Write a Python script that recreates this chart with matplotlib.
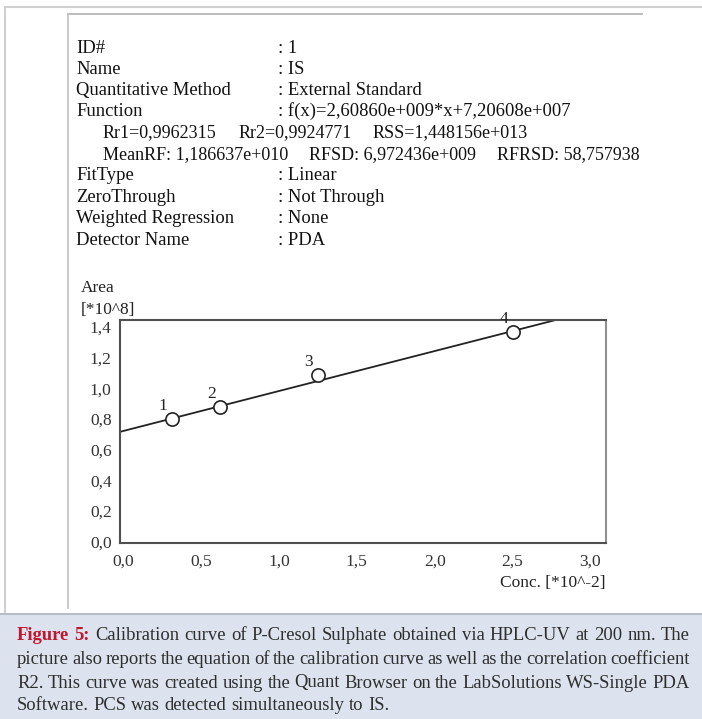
import matplotlib
matplotlib.use("Agg")
import matplotlib.pyplot as plt
from matplotlib.lines import Line2D
from matplotlib.patches import Rectangle

# calibration standards (conc in 10^-2, area in 10^8)
conc = [0.3125, 0.625, 1.25, 2.5]
area = [0.80, 0.88, 1.085, 1.365]
point_ids = ["1", "2", "3", "4"]

# fitted function f(x) = a*x + b
slope = 2.60860e9
intercept = 7.20608e7

x_ticks = [0.0, 0.5, 1.0, 1.5, 2.0, 2.5, 3.0]
x_ticklabels = ["0,0", "0,5", "1,0", "1,5", "2,0", "2,5", "3,0"]
y_ticks = [0.0, 0.2, 0.4, 0.6, 0.8, 1.0, 1.2, 1.4]
y_ticklabels = ["0,0", "0,2", "0,4", "0,6", "0,8", "1,0", "1,2", "1,4"]

header_left = ["ID#", "Name", "Quantitative Method", "Function", None, None,
               "FitType", "ZeroThrough", "Weighted Regression", "Detector Name"]
header_right = [": 1", ": IS", ": External Standard",
                ": f(x)=2,60860e+009*x+7,20608e+007", None, None,
                ": Linear", ": Not Through", ": None", ": PDA"]
stats_rows = [
    ["Rr1=0,9962315", "Rr2=0,9924771", "RSS=1,448156e+013"],
    ["MeanRF: 1,186637e+010", "RFSD: 6,972436e+009", "RFRSD: 58,757938"],
]

caption_lines = [
    "Calibration curve of P-Cresol Sulphate obtained via HPLC-UV at 200 nm. The",
    "picture also reports the equation of the calibration curve as well as the correlation coefficient",
    "R2. This curve was created using the Quant Browser on the LabSolutions WS-Single PDA",
    "Software. PCS was detected simultaneously to IS.",
]

W, H = 702, 719
SERIF = "Liberation Serif"
fig = plt.figure(figsize=(W / 100, H / 100), dpi=100)
fig.patch.set_facecolor("white")
renderer = fig.canvas.get_renderer()


def fx(x):
    return x / W


def fy(y):
    return 1 - y / H


def hline(x0, x1, y, color, lw=1.2):
    fig.add_artist(Line2D([fx(x0), fx(x1)], [fy(y), fy(y)], transform=fig.transFigure,
                          color=color, lw=lw))


def vline(x, y0, y1, color, lw=1.2):
    fig.add_artist(Line2D([fx(x), fx(x)], [fy(y0), fy(y1)], transform=fig.transFigure,
                          color=color, lw=lw))


def spread(arts, x0, x1, gap=None):
    # lay text pieces out left to right between x0 and x1 (pixels)
    widths = [a.get_window_extent(renderer).width for a in arts]
    if gap is None:
        gap = (x1 - x0 - sum(widths)) / (len(arts) - 1)
    x = x0
    for a, wd in zip(arts, widths):
        a.set_x(fx(x))
        x += wd + gap


# outer and inner page frames
hline(5, W, 7, "#d0d0d0", 1.5)
vline(5, 7, 614, "#d0d0d0", 1.5)
hline(68, 642, 14, "#b0b0b0", 1.2)
vline(68, 14, 608, "#c0c0c0", 1.2)

# header block
row_y = [47, 68, 89, 110, 131, 153, 174, 196, 217, 239]
hsize = 13.4
for i, y in enumerate(row_y):
    base = fy(y + 6)
    if header_left[i] is not None:
        fig.text(fx(76), base, header_left[i], family=SERIF, fontsize=hsize,
                 color="#111111", va="baseline")
        fig.text(fx(278), base, header_right[i], family=SERIF, fontsize=hsize,
                 color="#111111", va="baseline")
for row, y, x_end in zip(stats_rows, [row_y[4], row_y[5]], [528, 640]):
    arts = [fig.text(0, fy(y + 6), s, family=SERIF, fontsize=13.0,
                     color="#111111", va="baseline") for s in row]
    spread(arts, 103, x_end)

# calibration plot
ax = fig.add_axes([fx(120), fy(543), (606 - 120) / W, (543 - 320) / H])
ax.set_xlim(-0.02, 3.10)
ax.set_ylim(-0.01, 1.445)

xs = [ax.get_xlim()[0], ax.get_xlim()[1]]
ys = [(slope * x * 1e-2 + intercept) / 1e8 for x in xs]
ax.plot(xs, ys, color="#222222", lw=1.3)
ax.plot(conc, area, "o", ms=9.5, mfc="white", mec="#222222", mew=1.2, zorder=3)
for x, y, s in zip(conc, area, point_ids):
    ax.annotate(s, (x, y), xytext=(-9, 9), textcoords="offset pixels",
                ha="center", va="baseline", family=SERIF, fontsize=12.5, color="#222222")

ax.set_xticks(x_ticks)
ax.set_xticklabels(x_ticklabels)
ax.set_yticks(y_ticks)
ax.set_yticklabels(y_ticklabels)
ax.tick_params(length=0, labelsize=12.5, labelcolor="#333333")
ax.tick_params(axis="x", pad=8)
ax.tick_params(axis="y", pad=6)
for lab in ax.get_xticklabels() + ax.get_yticklabels():
    lab.set_family(SERIF)
for side in ["left", "bottom", "top"]:
    ax.spines[side].set_color("#505050")
    ax.spines[side].set_linewidth(1.5)
ax.spines["right"].set_color("#909090")
ax.spines["right"].set_linewidth(1.5)

fig.text(fx(81), fy(288), "Area", family=SERIF, fontsize=12.5, color="#222222", va="center")
fig.text(fx(81), fy(310), "[*10^8]", family=SERIF, fontsize=12.5, color="#222222", va="center")
fig.text(fx(605), fy(583), "Conc. [*10^-2]", family=SERIF, fontsize=12.5, color="#222222",
         va="center", ha="right")

# caption box
fig.add_artist(Rectangle((0, 0), 1, fy(614), transform=fig.transFigure,
                         facecolor="#dce3ee", edgecolor="none"))
hline(0, W, 614, "#b8bcc4", 1.5)

csize = 13.4
cap_y = [636, 659, 683, 706]
red = "#c0172e"
body = "#2e2e2e"
for i, (line, y) in enumerate(zip(caption_lines, cap_y)):
    tokens = []
    if i == 0:
        tokens += [("Figure", "bold", red), ("5:", "bold", red)]
    tokens += [(w, "normal", body) for w in line.split()]
    arts = [fig.text(0, fy(y), w, family=SERIF, fontsize=csize, fontweight=wt,
                     color=col, va="center") for w, wt, col in tokens]
    if i < len(caption_lines) - 1:
        spread(arts, 17, 690)
    else:
        spread(arts, 17, 690, gap=0.25 * csize * 100 / 72)

fig.savefig("out.png", dpi=100, facecolor="white")
